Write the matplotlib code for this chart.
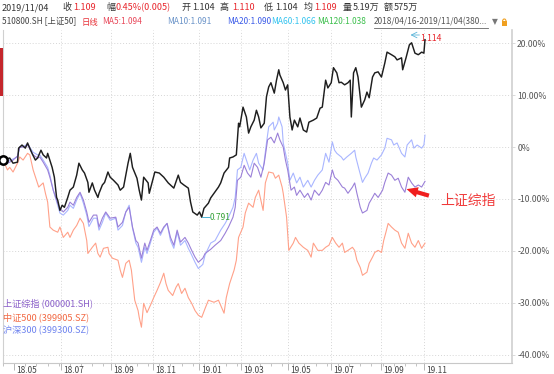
import numpy as np
import pandas as pd
import matplotlib
matplotlib.use('Agg')
import matplotlib.pyplot as plt
from matplotlib.patches import Rectangle, Arc
from matplotlib.lines import Line2D

plt.rcParams['font.family'] = ['Noto Sans CJK SC', 'DejaVu Sans']

# trading calendar 2018/04/16 - 2019/11/04 (SSE holidays removed)
HOLIDAYS = ['2018-04-30', '2018-05-01', '2018-06-18', '2018-09-24',
            '2018-10-01', '2018-10-02', '2018-10-03', '2018-10-04', '2018-10-05',
            '2018-12-31', '2019-01-01', '2019-02-04', '2019-02-05', '2019-02-06',
            '2019-02-07', '2019-02-08', '2019-04-05', '2019-05-01', '2019-05-02',
            '2019-05-03', '2019-06-07', '2019-09-13', '2019-10-01', '2019-10-02',
            '2019-10-03', '2019-10-04', '2019-10-07']
TICK_MONTHS = ['2018-05', '2018-07', '2018-09', '2018-11', '2019-01',
               '2019-03', '2019-05', '2019-07', '2019-09', '2019-11']
Y_TICKS = [20, 10, 0, -10, -20, -30, -40]
Y_LABELS = ['20.00%', '10.00%', '0%', '-10.00%', '-20.00%', '-30.00%', '-40.00%']

# 510800.SH (上证50 ETF), % change, by trading-day number
sh50_idx = [0, 6, 9, 13, 14, 17, 20, 22, 26, 29, 31, 34, 36, 39, 40, 44, 46, 48, 49, 51,
            53, 55, 58, 60, 63, 66, 68, 71, 73, 76, 77, 80, 82, 85, 86, 89, 91, 94, 96, 99,
            103, 105, 108, 112, 114, 116, 120, 122, 124, 126, 130, 131, 134, 136, 140, 144,
            148, 150, 153, 157, 159, 162, 166, 168, 170, 174, 176, 178, 180, 184, 186, 189,
            193, 195, 198, 202, 203, 206, 209, 211, 212, 215, 218, 220, 222, 225, 227, 229,
            231, 234, 236, 238, 240, 243, 245, 247, 248, 251, 253, 255, 257, 259, 261, 264,
            266, 269, 272, 274, 278, 281, 284, 286, 289, 291, 294, 296, 299, 301, 303, 306,
            309, 311, 312, 314, 316, 318, 321, 324, 326, 328, 331, 333, 336, 339, 342, 344,
            348, 351, 353, 357, 358, 361, 364, 366, 369, 372, 375, 377, 378]
sh50_pct = [-2.5, -2.1, -3.1, -2.9, -0.2, 0.4, -0.2, 0.8, -1.2, -2.5,
            -2.1, -0.6, -1.5, -2.1, -1.2, -3.9, -5.8, -9.7, -10.2, -12.2,
            -11.2, -11.6, -9.7, -8.3, -7.7, -5.4, -3.1, -4.4, -5.0, -6.8,
            -8.7, -6.9, -8.3, -9.7, -8.9, -7.3, -6.8, -4.8, -5.8, -6.4,
            -7.3, -8.3, -7.7, -3.1, -1.2, -3.9, -6.0, -8.3, -10.2, -5.8,
            -6.9, -8.9, -6.4, -4.8, -5.0, -5.8, -6.9, -7.3, -7.9, -5.4,
            -6.8, -7.3, -7.9, -10.6, -12.5, -13.1, -12.5, -13.5, -11.8, -10.8,
            -9.8, -8.9, -7.7, -6.9, -5.0, -3.9, -2.1, -1.9, -1.5, 4.6,
            3.9, 7.7, 5.8, 2.7, 3.9, 5.2, 7.1, 5.8, 3.7, 4.6,
            9.7, 11.6, 12.4, 10.4, 12.9, 14.9, 13.9, 12.4, 11.0, 12.0,
            5.8, 3.3, 5.2, 3.9, 5.6, 3.3, 2.9, 4.8, 5.2, 5.6,
            7.5, 7.7, 12.9, 11.4, 12.4, 15.3, 14.3, 12.4, 12.5, 12.0,
            12.4, 12.9, 5.8, 14.3, 15.3, 13.5, 7.7, 9.1, 10.6, 9.5,
            13.5, 14.3, 14.5, 13.5, 16.2, 18.3, 17.8, 17.4, 16.8, 17.2,
            14.9, 17.2, 19.7, 20.1, 18.1, 17.8, 18.3, 18.1, 20.7]

# 上证综指 (000001.SH)
szzz_idx = [0, 4, 6, 9, 13, 15, 19, 22, 27, 31, 33, 36, 40, 42, 45, 49, 51, 54, 58, 60,
            63, 66, 69, 72, 75, 77, 81, 84, 86, 89, 92, 96, 101, 103, 107, 110, 113, 116,
            119, 121, 124, 127, 129, 132, 135, 138, 141, 144, 147, 150, 153, 156, 159, 163,
            166, 169, 172, 175, 179, 181, 186, 190, 195, 199, 202, 206, 208, 210, 213, 216,
            219, 222, 225, 228, 231, 234, 237, 240, 243, 246, 248, 251, 253, 255, 258, 261,
            263, 266, 270, 273, 276, 279, 283, 286, 289, 292, 295, 297, 300, 304, 306, 309,
            313, 315, 317, 320, 322, 326, 328, 331, 333, 336, 340, 342, 345, 348, 351, 354,
            357, 360, 363, 366, 369, 372, 375, 378]
szzz_pct = [-2.5, -3.1, -2.9, -2.5, -1.7, 0.0, 0.0, 0.4, -1.5, -2.1,
            -1.9, -2.9, -4.4, -5.8, -8.3, -10.8, -11.8, -12.5, -11.6, -10.6,
            -11.2, -9.7, -8.7, -10.2, -12.5, -14.5, -13.1, -13.1, -15.4, -13.7,
            -12.5, -13.7, -13.5, -15.4, -14.5, -12.5, -11.6, -15.4, -18.0, -18.5,
            -21.4, -18.5, -19.9, -18.0, -16.0, -15.4, -16.6, -15.4, -14.7, -17.4,
            -18.9, -16.0, -18.3, -17.4, -18.5, -19.9, -21.2, -22.2, -21.4, -20.5,
            -19.7, -18.9, -18.0, -16.6, -15.4, -13.5, -11.6, -6.4, -5.8, -3.5,
            -5.0, -5.8, -3.1, -3.9, -5.8, -3.1, 1.4, 1.9, 0.8, 2.7,
            1.4, 0.0, -2.5, -4.4, -8.3, -7.7, -9.3, -8.3, -9.7, -8.9,
            -10.2, -8.3, -9.3, -8.3, -6.8, -7.3, -4.4, -5.8, -6.4, -7.7,
            -7.9, -8.9, -7.7, -6.9, -8.9, -11.6, -12.7, -12.2, -10.8, -9.7,
            -8.9, -9.7, -8.3, -6.8, -5.0, -5.4, -6.4, -6.0, -7.7, -8.7,
            -5.8, -6.9, -7.7, -7.3, -7.7, -6.6]

# 中证500 (399905.SZ)
zz500_idx = [0, 4, 6, 9, 13, 15, 18, 22, 24, 27, 30, 32, 36, 38, 40, 42, 45, 49, 51, 54,
             58, 60, 63, 66, 69, 72, 75, 76, 80, 83, 85, 87, 90, 94, 95, 98, 103, 105, 107,
             110, 113, 115, 118, 121, 122, 124, 126, 129, 132, 135, 138, 141, 144, 146, 148,
             152, 155, 157, 160, 163, 166, 169, 172, 175, 178, 181, 184, 189, 193, 198, 200,
             203, 207, 209, 211, 215, 217, 220, 224, 226, 229, 233, 235, 238, 242, 244, 247,
             250, 251, 254, 256, 260, 262, 265, 269, 273, 276, 278, 282, 286, 289, 292, 295,
             298, 301, 304, 306, 309, 313, 315, 317, 320, 322, 326, 328, 331, 333, 336, 339,
             341, 343, 345, 348, 351, 354, 357, 360, 363, 366, 369, 372, 375, 378]
zz500_pct = [-2.5, -4.4, -3.9, -4.8, -3.1, -1.9, -2.5, -1.2, -1.5, -4.4,
             -6.4, -7.7, -6.9, -8.9, -10.6, -15.4, -16.0, -16.4, -15.4, -17.4,
             -16.4, -17.4, -16.0, -15.1, -13.7, -14.7, -18.0, -20.5, -19.3, -18.5,
             -20.5, -21.2, -19.5, -19.3, -20.5, -21.4, -21.8, -23.7, -25.1, -22.4,
             -21.8, -23.7, -29.5, -31.5, -32.8, -34.7, -30.1, -31.9, -30.5, -29.0,
             -27.6, -26.1, -24.3, -26.3, -27.6, -28.6, -27.0, -26.3, -28.2, -27.2,
             -29.0, -30.1, -31.5, -32.4, -32.8, -31.1, -29.5, -29.9, -29.5, -32.0,
             -29.0, -26.3, -23.7, -21.8, -17.4, -15.4, -12.7, -10.8, -11.6, -9.7,
             -8.3, -12.2, -6.9, -4.8, -5.0, -6.0, -5.4, -7.7, -8.9, -13.5,
             -19.9, -18.5, -17.4, -18.5, -19.3, -19.9, -21.2, -18.5, -19.9, -19.9,
             -19.3, -18.9, -17.4, -18.5, -19.3, -18.5, -20.3, -19.9, -19.3, -19.9,
             -21.8, -23.2, -24.7, -24.1, -22.4, -21.2, -20.3, -19.9, -20.3, -18.0,
             -16.4, -14.7, -15.4, -16.0, -16.4, -18.5, -19.5, -16.6, -18.5, -19.3,
             -18.0, -19.5, -18.5]

# 沪深300 (399300.SZ)
hs300_idx = [0, 4, 6, 9, 13, 15, 19, 22, 27, 31, 33, 36, 40, 42, 45, 49, 51, 54, 58, 60,
             63, 66, 69, 72, 75, 77, 81, 84, 86, 89, 92, 96, 101, 103, 107, 110, 113, 116,
             119, 121, 124, 127, 129, 132, 135, 138, 141, 144, 147, 150, 153, 156, 159, 163,
             166, 169, 172, 175, 179, 181, 186, 190, 195, 199, 202, 206, 208, 210, 213, 216,
             219, 221, 224, 227, 229, 233, 236, 238, 242, 243, 246, 247, 250, 251, 255, 257,
             260, 263, 266, 269, 273, 276, 279, 282, 286, 289, 292, 295, 297, 299, 303, 305,
             308, 312, 315, 316, 319, 322, 324, 327, 330, 332, 335, 339, 342, 344, 348, 350,
             353, 357, 360, 362, 366, 368, 371, 375, 377, 378]
hs300_pct = [-2.5, -2.9, -2.5, -2.3, -1.9, 0.0, 0.2, 0.6, -1.0, -1.5,
             -1.5, -2.5, -3.9, -5.4, -8.3, -11.2, -12.7, -13.1, -12.2, -11.2,
             -11.8, -10.2, -8.9, -10.8, -13.1, -15.3, -13.7, -13.7, -16.0, -14.5,
             -12.7, -14.1, -13.7, -16.0, -15.1, -12.5, -11.2, -15.6, -18.5, -19.3,
             -22.2, -19.3, -20.5, -18.5, -16.4, -15.6, -17.0, -15.6, -14.7, -18.0,
             -19.5, -16.4, -18.9, -18.0, -19.5, -20.8, -22.2, -23.4, -22.6, -20.8,
             -18.5, -18.0, -16.0, -14.7, -13.5, -11.6, -9.7, -4.4, -3.9, -1.2,
             -3.1, -4.4, -2.5, -1.2, -3.1, -4.4, 0.8, 3.9, 4.8, 3.3,
             4.6, 5.8, 3.9, 0.8, -3.1, -6.4, -5.0, -6.9, -5.8, -7.7,
             -6.4, -7.7, -6.4, -5.4, -4.4, -1.2, -2.9, 1.0, -0.6, -1.2,
             -1.9, -2.5, -1.9, -1.2, -0.6, -1.9, -4.4, -6.8, -6.0, -5.0,
             -3.1, -2.1, -2.5, -1.5, -0.2, 1.7, 1.4, 0.4, 0.8, -1.2,
             -1.9, 0.4, 1.4, -0.2, 0.4, -0.2, 0.4, 2.3]

W, H = 554, 374


def fpos(x, y):
    # pixel position -> figure fraction
    return x / W, 1 - y / H


days = pd.bdate_range('2018-04-16', '2019-11-04')
days = days[~days.isin(pd.to_datetime(HOLIDAYS))]
tick_idx = [int(np.searchsorted(days, pd.Timestamp(m + '-01'))) for m in TICK_MONTHS]
tick_lbl = [pd.Timestamp(m + '-01').strftime('%y.%m') for m in TICK_MONTHS]

fig = plt.figure(figsize=(W / 100, H / 100), dpi=100)
fig.patch.set_facecolor('white')
ax = fig.add_axes([3 / W, 1 - 363 / H, 509 / W, 333 / H])

px_per_day = 422 / (len(days) - 1)
ax.set_xlim(0, 509 / px_per_day)
ax.set_ylim((147.1 - 363) / 5.19, (147.1 - 30) / 5.19)

# grid
for y in Y_TICKS:
    ax.axhline(y, color='#d6d6d6', lw=0.7, ls=(0, (1, 2)), zorder=0)
for t in tick_idx[1:]:
    ax.axvline(t, color='#d6d6d6', lw=0.7, ls=(0, (1, 2)), zorder=0)

ax.plot(zz500_idx, zz500_pct, color='#ffa189', lw=0.8, zorder=2)
ax.plot(hs300_idx, hs300_pct, color='#a9b6ff', lw=0.8, zorder=3)
ax.plot(szzz_idx, szzz_pct, color='#9b80d8', lw=0.8, zorder=4)
ax.plot(sh50_idx, sh50_pct, color='#1e1e1e', lw=1.05, zorder=5)
ax.plot(sh50_idx[0], sh50_pct[0], 'o', mfc='white', mec='black', mew=1.8, ms=6,
        clip_on=False, zorder=6)

# min / max labels
i_min = int(np.argmin(sh50_pct))
x_min, y_min = sh50_idx[i_min], sh50_pct[i_min]
ax.plot([x_min, x_min + 7], [y_min, y_min], color='#4eb4d6', lw=0.7, zorder=6)
ax.text(x_min + 7.5, y_min, '0.791', color='#35a035', fontsize=6, va='center', ha='left')
ax.annotate('', xy=(sh50_idx[-1] - 13, 21.6), xytext=(sh50_idx[-1] - 5, 21.6),
            arrowprops=dict(arrowstyle='->', color='#5ab4d8', lw=0.6,
                            shrinkA=0, shrinkB=0))
ax.text(sh50_idx[-1] - 4.5, 20.9, '1.114', color='#e8262c', fontsize=6.2,
        va='center', ha='left', clip_on=False)

# red callout
ax.annotate('', xy=(361.5, -8.1), xytext=(381.5, -9.35),
            arrowprops=dict(arrowstyle='simple,head_length=0.8,head_width=0.75,tail_width=0.3',
                            color='#f01e1e', lw=0, shrinkA=0, shrinkB=0))
ax.text(391.5, -10.3, '上证综指', color='#f03a3a', fontsize=10, va='center', ha='left',
        clip_on=False)

# axes styling
ax.spines['top'].set_visible(False)
ax.spines['left'].set_color('#d0d0d0')
ax.spines['right'].set_color('#d0d0d0')
ax.spines['right'].set_linewidth(1.2)
ax.spines['bottom'].set_color('#c8c8c8')

ax.yaxis.tick_right()
ax.set_yticks(Y_TICKS)
ax.set_yticklabels(Y_LABELS)
ax.tick_params(axis='y', length=2.5, width=0.5, color='#cccccc', pad=1.2,
               labelsize=6.2, labelcolor='#555555')

ax.set_xticks(tick_idx)
ax.set_xticklabels([])
ax.set_xticks(np.arange(0, len(days), 10), minor=True)
ax.tick_params(axis='x', which='major', length=5, width=0.6, color='#aaaaaa')
ax.tick_params(axis='x', which='minor', length=2.5, width=0.5, color='#aaaaaa')
for t, lbl in zip(tick_idx, tick_lbl):
    ax.annotate(lbl, xy=(t, 0), xycoords=('data', 'axes fraction'), xytext=(1.6, -2.3),
                textcoords='offset points', ha='left', va='top', fontsize=6,
                color='#444444', annotation_clip=False)

# legend block
fig.text(*fpos(3, 303.5), '上证综指 (000001.SH)', color='#8a5fc9', fontsize=6.6, va='center')
fig.text(*fpos(3, 317), '中证500 (399905.SZ)', color='#f26a45', fontsize=6.6, va='center')
fig.text(*fpos(3, 331), '沪深300 (399300.SZ)', color='#6f84ef', fontsize=6.6, va='center')

# header line 1
RED = '#e8262c'
DARK = '#333333'
head1 = [(2, '2019/11/04', DARK), (62, '收', DARK), (73, '1.109', RED),
         (106, '幅', DARK), (115, '0.45%(0.005)', RED), (181, '开', DARK),
         (192, '1.104', DARK), (220, '高', DARK), (232, '1.110', RED),
         (264, '低', DARK), (275, '1.104', DARK), (304, '均', DARK),
         (314, '1.109', RED), (343, '量', DARK), (353, '5.19万', DARK),
         (384, '额', DARK), (394, '575万', DARK)]
for x, s, c in head1:
    fig.text(*fpos(x, 7.5), s, color=c, fontsize=6.5, va='center', ha='left')

# header line 2
head2 = [(2, '510800.SH [上证50]', '#444444'), (82, '日线', '#e8333a'),
         (102, 'MA5:1.094', '#e8485a'), (167, 'MA10:1.091', '#6a93c8'),
         (227, 'MA20:1.090', '#3b5be8'), (271, 'MA60:1.066', '#33c3ef'),
         (317, 'MA120:1.038', '#3cbf4c'), (374, '2018/04/16-2019/11/04(380...', '#555555')]
for x, s, c in head2:
    fig.text(*fpos(x, 22), s, color=c, fontsize=6.0, va='center', ha='left')
fig.add_artist(Line2D([374 / W, 488 / W], [1 - 27.5 / H, 1 - 27.5 / H],
                      color='#666666', lw=0.6))
fig.text(*fpos(492, 22), '▼', color='#777777', fontsize=5.5, va='center', ha='left',
         family='DejaVu Sans')
# lock icon
fig.add_artist(Rectangle(fpos(501.5, 25.5), 5.5 / W, 4 / H, color='#f0a020', lw=0))
fig.add_artist(Arc(fpos(504.3, 21.5), 3.5 / W, 5 / H, theta1=0, theta2=180,
                   color='#f0a020', lw=0.8))

# red marker on the left edge
fig.add_artist(Rectangle(fpos(0, 96), 3 / W, 48 / H, color='#c4262c', lw=0))

fig.savefig('out.png', dpi=100)
